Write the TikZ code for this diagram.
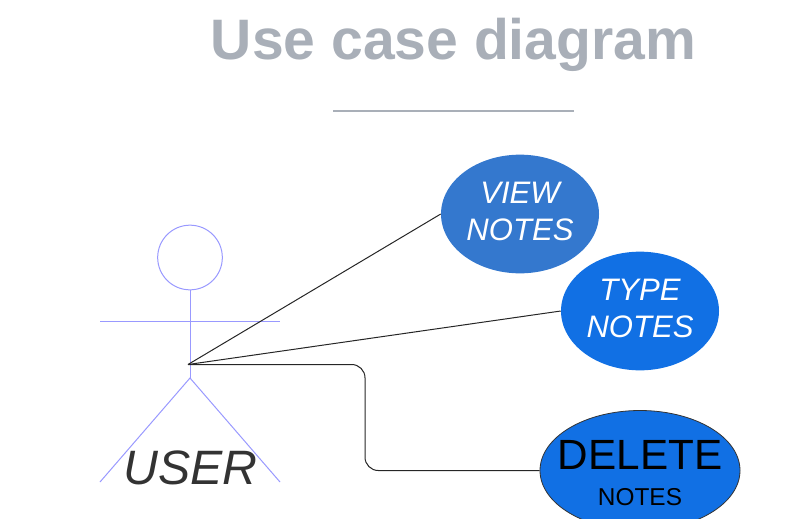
\documentclass[tikz,border=0pt]{standalone}
\usepackage{fontspec}
\setmainfont{Liberation Sans}
\usetikzlibrary{shapes.geometric}
\definecolor{titlegray}{HTML}{A9AFB8}
\definecolor{actorblue}{HTML}{9999FF}
\definecolor{viewblue}{HTML}{3478CE}
\definecolor{typeblue}{HTML}{1170E4}
\tikzset{
  usecase/.style={ellipse,minimum width=118.5pt,minimum height=89pt,inner sep=0pt},
  casetext/.style={align=center,inner sep=0pt,text=white,font=\fontsize{23.3}{27.7}\selectfont\itshape},
  actorline/.style={draw=actorblue,line width=0.75pt},
  wire/.style={draw=black!85,line width=0.75pt}
}
\begin{document}
\begin{tikzpicture}[x=0.75pt,y=-0.75pt]
\useasboundingbox (0,0) rectangle (812,518);
\node[text=titlegray,font=\fontsize{42.8}{50}\selectfont\bfseries] (title) at (453.5,45) {Use case diagram};
\coordinate (ruleleft) at (333,110.5);
\coordinate (ruleright) at (574,110.5);
\draw[titlegray,line width=1.5pt] (ruleleft)--(ruleright);

\node[circle,actorline,minimum size=48.5pt,inner sep=0pt] (head) at (190,257.5) {};
\coordinate (hip) at (190,378);
\coordinate (armleft) at (100,321.2);
\coordinate (armright) at (280,321.2);
\coordinate (footleft) at (100,482);
\coordinate (footright) at (280,482);
\coordinate (hub) at (188,364.5);
\draw[actorline] (head.south)--(hip);
\draw[actorline] (armleft)--(armright);
\draw[actorline] (footleft)--(hip)--(footright);
\node[text=black!80,font=\fontsize{36.2}{40}\selectfont\itshape] (user) at (190.5,468) {USER};

\node[usecase,fill=viewblue] (view) at (520,214) {};
\node[casetext] (viewtext) at (520,211) {VIEW\\NOTES};
\node[usecase,fill=typeblue] (type) at (640,311) {};
\node[casetext] (typetext) at (640,308) {TYPE\\NOTES};
\node[ellipse,fill=typeblue,draw=black!80,line width=0.6pt,minimum width=150pt,minimum height=90pt,inner sep=0pt] (delete) at (640,470.5) {};
\node[font=\fontsize{31.7}{36}\selectfont,inner sep=0pt] (deletetext) at (640,455) {DELETE};
\node[font=\fontsize{18.3}{22}\selectfont,inner sep=0pt] (deletenotes) at (640,497) {NOTES};

\draw[wire] (hub)--(view.west);
\draw[wire] (hub)--(type.west);
\coordinate (elbowtop) at (365,364.5);
\coordinate (elbowbottom) at (365,470.5);
\draw[wire,rounded corners=10pt] (hub)--(elbowtop)--(elbowbottom)--(delete.west);
\end{tikzpicture}
\end{document}
